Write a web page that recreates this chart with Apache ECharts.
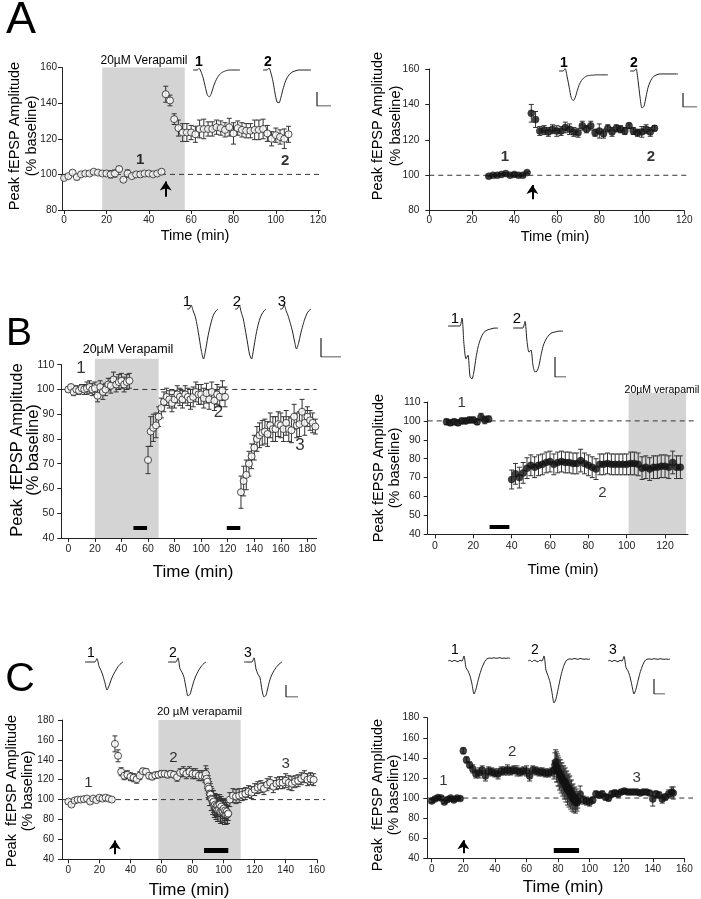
<!DOCTYPE html>
<html><head><meta charset="utf-8">
<script src="https://cdn.jsdelivr.net/npm/echarts@6/dist/echarts.min.js"></script>
<style>html,body{margin:0;padding:0;background:#fff}#c{width:701px;height:899px}</style>
</head><body><div id="c"></div><script>
const FONT = '"Liberation Sans", Arial, Helvetica, sans-serif';

// ---------- DATA: [time (min), mean (% baseline), sem] ----------
const ptsAL = [[0,98,1],[2,99,1],[4,101,1],[6,98.5,1.5],[8,100,1],[10,100.5,1],[12,100.5,1],[14,101.5,1],[16,101,1],[18,100.5,1],[20,100.5,1],[22,100,2],[24,100.5,2],[26,103,1.5],[28,97,1],[30,100.5,2],[32,99,1],[34,100,1],[36,100,1.5],[38,100.5,1],[40,100.5,1],[42,100,1],[44,100.5,1],[46,101.5,1],
[48,145,4.5],[50,141.5,3],[52,131,3],[54,126,4.5],[56,123.5,5],[58,123.5,5],[60,123.5,4],[62,122.5,4.5],[64,125.5,5],[66,125.5,5.5],[68,125.5,4],[70,125.5,4],[72,126.5,4],[74,126,4],[76,125,4],[78,126.5,5],[80,123,6],[82,126,4],[84,125,4],[86,124.5,4],[88,124.5,4],[90,125,5.5],[92,125,5.5],[94,125.5,5.5],[96,123,4.5],[98,120,4],[100,122,4],[102,121,4],[104,120,5.5],[106,122.5,4.5]];
const ptsAR = [[28,99.5,0.5],[30,100,0.5],[32,100,0.5],[34,100.5,0.5],[36,101,0.5],[38,100,0.5],[40,100.5,1],[42,100,0.5],[44,100,0.5],[46,101.5,0.5],
[48,135,5],[50,131.5,4.5],[52,125,2.5],[54,125.5,2.5],[56,124.5,2.5],[58,126,2.5],[60,125,3],[62,125,2.5],[64,127,3],[66,126,3],[68,124.5,2.5],[70,124,2.5],[72,128,2.5],[74,126,2],[76,128,2.5],[78,124,2],[80,125,4],[82,123.5,2.5],[84,126.5,2],[86,124.5,2.5],[88,126.5,2],[90,126,2],[92,125,2],[94,128,1.5],[96,125,2],[98,124,2],[100,124.5,3],[102,126,2.5],[104,124.5,2.5],[106,126.5,1.5]];
const ptsBL = [[0,100,1],[2,101,1],[4,99,1.5],[6,100,1.5],[8,99.5,1.5],[10,100.5,1.5],[12,100,2],[14,100.5,2.5],[16,101,2.5],[18,100,2.5],[20,100.5,2.5],[22,97.5,2.5],[24,101,2.5],[26,99,3],[28,100,2.5],[30,102,2.5],[32,101.5,3],[34,104,3],[36,102,3],[38,103,3],[40,103.5,3],[42,102,3],[44,103,3],[46,103.5,3],
[60,71.5,5.5],[62,83,6],[64,84.5,5.5],[66,85.5,5],[68,89,4],[70,92.5,4],[72,95,4],[74,97,3.5],[76,96,3.5],[78,94.5,3.5],[80,96,3.5],[82,98,3.5],[84,97,3.5],[86,96,3.5],[88,98,3.5],[90,97,3.5],[92,96,4],[94,97,4],[96,99,4],[98,98,4],[100,98,4],[102,96.5,4],[104,98.5,4],[106,96,4],[108,99,4],[110,95.5,4],[112,98,4],[114,97,4],[116,99.5,4],[118,97,4],
[130,58.5,6.5],[132,63,6],[134,65.5,6],[136,70,5],[138,73,5],[140,76.5,5],[142,80,5],[144,81.5,5],[146,82.5,5],[148,83,5],[150,82,5],[152,85.5,5],[154,84,5],[156,84,5],[158,86,5],[160,85.5,5],[162,84,5],[164,86.5,5],[166,84,5],[168,83.5,5],[170,89,5],[172,85.5,5],[174,86,5],[176,91,5],[178,86.5,5],[180,89,4],[182,87.5,4],[184,86.5,4],[186,85,3]];
const ptsBR = [[6,99.5,1.5],[8,99,1.5],[10,99.5,1.5],[12,99,1.5],[14,100,1.5],[16,100,1.5],[18,100.5,1.5],[20,100.5,1.5],[22,99.5,1.5],[24,102,2],[26,100.5,2],[28,101,1.5],
[40,69,5],[42,72,5.5],[44,70,5.5],[46,72.5,5.5],[48,75,5.5],[50,76.5,5.5],[52,75.5,5.5],[54,76.5,5.5],[56,77,5.5],[58,78,5.5],[60,78.5,5.5],[62,77,5.5],[64,78,5.5],[66,78.5,5.5],[68,78,5.5],[70,78,5.5],[72,77.5,5.5],[74,77.5,5.5],[76,79,6],[78,77.5,5.5],[80,76.5,5.5],[82,75.5,5.5],[84,74.5,5.5],[86,77,5.5],[88,77,5.5],[90,77.5,5.5],[92,77,5.5],[94,77,5.5],[96,77,5.5],[98,77,5.5],[100,77,5.5],[102,77.5,6],[104,77.5,6],[106,77,6],[108,75,6],[110,75.5,6],[112,74.5,6],[114,75.5,6],[116,75.5,6],[118,76,6],[120,76,6],[122,75.5,6],[124,78,6],[126,75.5,6],[128,75.5,6]];
const ptsCL = [[0,98,2],[2,95,2],[4,99,1.5],[6,100,1.5],[8,100,1.5],[10,100.5,1.5],[12,101,1.5],[14,98,2],[16,101,1.5],[18,99.5,1.5],[20,102,1.5],[22,101,1.5],[24,102,1.5],[26,101,1.5],[28,100,1.5],
[30,156,8],[32,144,6],[34,128,4],[36,124,4],[38,125,4],[40,123,4],[42,122,4],[44,120.5,4],[46,124,4],[48,128.5,3],[50,128,3],[52,124,3],[54,123,3],[56,124.5,3],[58,125,3],[60,126,3],[62,126,3],[64,125,3],[66,126,3],[68,125,3],[70,122.5,4],[72,127,4],[74,128,5],[76,126,5],[78,128,5],[80,126,5],[82,126,5],[84,124,5],[86,124,5],[88,123,6],
[88.5,126,8],[89,121,10],[89.5,118,9],[90,113,11],[90.5,111,10],[91,106,12],[91.5,105,11],[92,101,12],[92.5,100,11],[93,97,12],[93.5,98,11],[94,94,12],[94.5,95,11],[95,92,12],[95.5,94,11],[96,90,12],[96.5,94,11],[97,90,12],[97.5,95,10],[98,88,12],[98.5,93,10],[99,89,12],[99.5,88,11],[100,91,10],[100.5,86,11],[101,89,10],[101.5,85,10],[102,88,9],[102.5,85,9],[103,86,7],
[104,100,7],[106,104,7],[108,103,7],[110,104,7],[112,105,6],[114,106,6],[116,108,6],[118,107,6],[120,110,6],[122,112,6],[124,113,6],[126,111,6],[128,115,6],[130,117,6],[132,113,6],[134,116,6],[136,117,6],[138,117,6],[140,119,7],[142,117,7],[144,116,7],[146,118,6],[148,119,6],[150,121,6],[152,123,6],[154,120,6],[156,121,6],[158,120,6]];
const ptsCR = [[0,97,1.5],[2,99,1.5],[4,100.5,1.5],[6,100,1.5],[8,96,1.5],[10,98.5,1.5],[12,100,1.5],[14,98,1.5],[16,100,1.5],[18,99.5,1.5],
[20,147,3],[22,138,3],[24,133,3],[26,129,4],[28,124,4],[30,125,5],[32,128,4],[34,122,5],[36,127,4],[38,126,4],[40,125,4],[42,124,5],[44,127,4],[46,127,4],[48,128,5],[50,127,4],[52,128,4],[54,127,5],[56,126,4],[58,127,4],[60,127,5],[62,122,5],[64,128,4],[66,127,4],[68,126,4],[70,126,4],[72,125,4],[74,125,4],[76,126,4],
[77.5,128,9],[78,133,12],[78.5,136,12],[79,131,15],[79.5,130,14],[80,127,15],[80.5,126,14],[81,123,15],[81.5,124,14],[82,120,15],[82.5,121,14],[83,117,15],[83.5,118,14],[84,114,15],[84.5,116,14],[85,111,15],[85.5,113,14],[86,108,15],[86.5,110,14],[87,106,15],[87.5,108,14],[88,103,14],[88.5,105,13],[89,100,13],[89.5,102,12],[90,98,12],[90.5,100,11],[91,96,11],[91.5,99,10],[92,95,8],[92.5,97,7],
[94,104,8],[96,98,4],[98,97,4],[100,96,4],[102,98,3],[104,104,3],[106,103,3],[108,104,3],[110,101,3],[112,100,3],[114,104,3],[116,105,3],[118,104,3],[120,106,2],[122,107,2],[124,106,2],[126,106,2],[128,106,2],[130,106,2],[132,105,2],[134,106,2],[136,106,2],[138,105,2],[140,99,7],[142,104,3],[144,103,3],[146,99,4],[148,101,3],[150,104,4],[152,106,5],[153,105,6]];

// tick labels
const ticksA = [0,20,40,60,80,100,120];
const ticksBL = [0,20,40,60,80,100,120,140,160,180];
const ticksBR = [0,20,40,60,80,100,120];
const ticksC = [0,20,40,60,80,100,120,140,160];

// drug bands [start, end, top]
const bandAL = [18,57,160];
const bandBL = [20,68,112.4];
const bandBR = [101,131,114.9];
const bandCL = [58,111,180];

// numbered time-point labels [time, value, text]
const labelsAL = [[35.9,108,'1'],[104.4,107.5,'2']];
const labelsAR = [[35.6,110.5,'1'],[104.3,110.5,'2']];
const labelsBL = [[9.6,108.5,'1'],[113,90.6,'2'],[174.5,77.6,'3']];
const labelsBR = [[13.9,109.8,'1'],[87.3,61.7,'2']];
const labelsCL = [[12.9,116.4,'1'],[67.6,141.5,'2'],[140,135.5,'3']];
const labelsCR = [[7.4,116.7,'1'],[51,146,'2'],[129.8,120,'3']];

// stimulation arrows [time, tail, head]
const arrowAL = [48,87.5,96];
const arrowAR = [48.5,86.5,94.5];
const arrowCL = [30,45,59];
const arrowCR = [20,45,58];

// black bars [start, end, level]
const barsBL = [[49,59.3,44],[119.3,129.5,44]];
const barsBR = [[28.5,38.8,44]];
const barsCL = [[87.4,103,49]];
const barsCR = [[77.3,93.3,48.3]];

// example fEPSP traces (normalised, 0 = baseline, -1 = peak)
const trAL1 = [0,0,0,0.06,-0.08,-0.3,-0.62,-0.92,-1,-0.86,-0.62,-0.42,-0.27,-0.17,-0.1,-0.06,-0.03,-0.01,0,0,0,0,0,0];
const trAL2 = [0,0,0,0.06,-0.1,-0.35,-0.7,-0.97,-1,-0.82,-0.58,-0.38,-0.24,-0.15,-0.09,-0.05,-0.03,-0.01,0,0,0,0,0,0,0];
const trAR1 = [0,0,0,0.08,-0.2,-0.55,-0.9,-1,-0.88,-0.65,-0.45,-0.32,-0.24,-0.19,-0.16,-0.15,-0.14,-0.14,-0.13,-0.13,-0.13,-0.13,-0.13,-0.13,-0.13];
const trAR2 = [0,0,0,0.06,-0.25,-0.7,-1,-0.95,-0.7,-0.45,-0.3,-0.2,-0.14,-0.11,-0.09,-0.08,-0.08,-0.08,-0.08,-0.08,-0.08,-0.08,-0.08,-0.08,-0.08];
const trBL1 = [0,0,0.08,-0.04,-0.15,-0.35,-0.6,-0.85,-1,-0.82,-0.58,-0.38,-0.22,-0.1,-0.04,0];
const trBL2 = [0,0,0.08,-0.06,-0.2,-0.42,-0.66,-0.9,-1,-0.8,-0.55,-0.35,-0.2,-0.1,-0.04,0];
const trBL3 = [0,0,0.1,-0.05,-0.18,-0.36,-0.55,-0.8,-1,-0.85,-0.62,-0.42,-0.25,-0.12,-0.04,0];
const trBR1 = [0,0,0,0,0,0,0,0.15,-0.35,-0.62,-0.55,-0.95,-1,-0.85,-0.6,-0.4,-0.27,-0.18,-0.12,-0.09,-0.07,-0.06,-0.05,-0.04,-0.04,-0.04];
const trBR2 = [0,0,0,0,0,0,0.15,-0.3,-0.55,-0.5,-0.85,-1,-0.98,-0.85,-0.62,-0.42,-0.3,-0.22,-0.16,-0.12,-0.1,-0.09,-0.08,-0.07,-0.07,-0.07];
const trCL1 = [0,0,0,0,0,0,0.12,-0.15,-0.3,-0.5,-0.75,-1,-0.85,-0.65,-0.48,-0.35,-0.22,-0.12,-0.05,0];
const trCL2 = [0,0,0,0,0,0.12,-0.2,-0.3,-0.45,-0.75,-1,-0.95,-0.75,-0.55,-0.4,-0.28,-0.18,-0.1,-0.04,0];
const trCL3 = [0,0,0,0,0,0.12,-0.2,-0.35,-0.45,-0.8,-1,-0.95,-0.72,-0.5,-0.35,-0.25,-0.16,-0.09,-0.04,0];
const trCR1 = [0,0.02,-0.02,0.02,0,-0.02,0.02,0,0.15,-0.2,-0.3,-0.45,-0.7,-1,-0.85,-0.6,-0.38,-0.2,-0.06,0.04,0.08,0.09,0.08,0.1,0.08,0.09,0.1,0.08,0.09,0.08,0.09,0.08];
const trCR2 = [0,0.02,-0.02,0.02,0,-0.02,0.02,0,0.12,-0.22,-0.35,-0.5,-0.75,-1,-0.9,-0.68,-0.45,-0.25,-0.1,0,0.04,0.05,0.04,0.06,0.05,0.04,0.06,0.05,0.04,0.05,0.04,0.05];
const trCR3 = [0,0.02,-0.02,0.02,0,-0.02,0.02,0,0.14,-0.2,-0.3,-0.48,-0.75,-1,-0.85,-0.6,-0.36,-0.18,-0.04,0.04,0.06,0.06,0.05,0.07,0.06,0.05,0.07,0.06,0.05,0.06,0.05,0.06];
const scaleBarShape = [[0,1],[0,0],[1,0]];

// ---------- BUILD ----------
const grids=[], xAxes=[], yAxes=[], series=[], graphics=[];
function addGrid(l,t,w,h,xr,yr){
  const i=grids.length;
  grids.push({left:l,top:t,width:w,height:h,outerBoundsMode:'none',containLabel:false});
  xAxes.push({gridIndex:i,type:'value',min:xr[0],max:xr[1],show:false});
  yAxes.push({gridIndex:i,type:'value',min:yr[0],max:yr[1],show:false});
  return i;
}
function text(t,x,y,size,opt){
  opt=opt||{};
  graphics.push({type:'text',x:x,y:y,rotation:opt.rot||0,z:100,silent:true,
    style:{text:t,fill:'#000',fontSize:size,fontFamily:FONT,fontWeight:opt.bold?'bold':'normal',align:opt.align||'center',verticalAlign:'middle'}});
}
function panel(p){
  const w=(p.x[1]-p.x[0])*p.px;
  const pxY=p.h/(p.y[1]-p.y[0]);
  const bandTop=p.band?p.band[2]:p.y[1];
  const eT=Math.max(0,(bandTop-p.y[1])*pxY);
  const eR=Math.max(0,(p.dashEnd-p.x[1])*p.px);
  const o=addGrid(p.l,p.t-eT,w+eR,p.h+eT,[p.x[0],p.x[1]+eR/p.px],[p.y[0],p.y[1]+eT/pxY]);
  if(p.band){
    series.push({type:'custom',xAxisIndex:o,yAxisIndex:o,z:-1,silent:true,
      data:[[p.band[0],p.band[1],p.y[0],p.band[2]]],encode:{x:[0,1],y:[2,3]},
      renderItem:(params,api)=>{const a=api.coord([api.value(0),api.value(3)]);const b=api.coord([api.value(1),api.value(2)]);
        return {type:'rect',shape:{x:a[0],y:a[1],width:b[0]-a[0],height:b[1]-a[1]},style:{fill:'#d4d4d4'}};}});
  }
  series.push({type:'line',xAxisIndex:o,yAxisIndex:o,z:1,silent:true,symbol:'none',
    data:[[p.x[0],100],[p.dashEnd,100]],lineStyle:{color:'#333',width:1,type:[5,4]}});
  const m=addGrid(p.l,p.t,w,p.h,p.x,p.y);
  const axc='#222';
  xAxes[m]={gridIndex:m,type:'value',min:p.x[0],max:p.x[1],
    axisLine:{show:true,onZero:false,lineStyle:{color:axc,width:1}},
    axisTick:{show:true,length:4,customValues:p.xt,lineStyle:{color:axc}},
    axisLabel:{show:true,customValues:p.xt,fontSize:p.fs,color:axc,margin:p.xm,fontFamily:FONT},
    splitLine:{show:false}};
  yAxes[m]={gridIndex:m,type:'value',min:p.y[0],max:p.y[1],interval:p.yi,
    axisLine:{show:true,onZero:false,lineStyle:{color:axc,width:1}},
    axisTick:{show:true,length:4,lineStyle:{color:axc}},
    axisLabel:{show:true,fontSize:p.fs,color:axc,margin:p.ym,fontFamily:FONT,showMinLabel:true,showMaxLabel:true},
    splitLine:{show:false}};
  series.push({type:'custom',xAxisIndex:m,yAxisIndex:m,z:3,silent:true,data:p.pts,encode:{x:0,y:1},
    renderItem:(params,api)=>{
      const x=api.value(0),v=api.value(1),e=api.value(2);
      const t=api.coord([x,v+e]),b=api.coord([x,v-e]);const cw=2.5;
      const st={stroke:'#333',lineWidth:1};
      return {type:'group',children:[
        {type:'line',shape:{x1:t[0],y1:t[1],x2:b[0],y2:b[1]},style:st},
        {type:'line',shape:{x1:t[0]-cw,y1:t[1],x2:t[0]+cw,y2:t[1]},style:st},
        {type:'line',shape:{x1:b[0]-cw,y1:b[1],x2:b[0]+cw,y2:b[1]},style:st}]};
    }});
  series.push({type:'scatter',xAxisIndex:m,yAxisIndex:m,z:4,silent:true,symbol:'circle',symbolSize:p.ms,
    data:p.pts.map(d=>[d[0],d[1]]),
    itemStyle:p.open?{color:'#fff',borderColor:'#222',borderWidth:1}:{color:'#111',borderColor:'#111',borderWidth:0.5}});
  series.push({type:'scatter',xAxisIndex:m,yAxisIndex:m,z:5,silent:true,clip:false,symbolSize:1,
    itemStyle:{color:'rgba(0,0,0,0)'},
    data:p.labels.map(d=>({value:[d[0],d[1]],name:d[2]})),
    label:{show:true,position:'inside',formatter:'{b}',color:'#000',fontSize:p.lfs,fontWeight:p.lbold?'bold':'normal',fontFamily:FONT}});
  if(p.arrow){
    series.push({type:'lines',coordinateSystem:'cartesian2d',xAxisIndex:m,yAxisIndex:m,z:5,silent:true,
      symbol:['none','arrow'],symbolSize:[0,9],
      data:[{coords:[[p.arrow[0],p.arrow[1]],[p.arrow[0],p.arrow[2]]]}],lineStyle:{color:'#000',width:2,opacity:1}});
  }
  if(p.bars){
    series.push({type:'lines',coordinateSystem:'cartesian2d',xAxisIndex:m,yAxisIndex:m,z:5,silent:true,symbol:'none',
      data:p.bars.map(b=>({coords:[[b[0],b[2]],[b[1],b[2]]]})),lineStyle:{color:'#000',width:p.barW,opacity:1}});
  }
}
function trace(arr,x0,x1,baseY,minY){
  const d=minY-baseY;
  const g=addGrid(x0,baseY-0.2*d,x1-x0,1.2*d,[0,arr.length-1],[-1,0.2]);
  series.push({type:'line',xAxisIndex:g,yAxisIndex:g,silent:true,symbol:'none',smooth:0.25,
    data:arr.map((v,i)=>[i,v]),lineStyle:{color:'#222',width:1}});
}
function scaleBar(x0,x1,y0,y1){
  const g=addGrid(x0,y0,x1-x0,y1-y0,[0,1],[0,1]);
  series.push({type:'line',xAxisIndex:g,yAxisIndex:g,silent:true,symbol:'none',
    data:scaleBarShape,lineStyle:{color:'#222',width:1.2}});
}

// ---- panels ----
panel({l:62,t:67.5,h:142.5,x:[-1,121],px:2.117,y:[80,160],yi:20,xt:ticksA,pts:ptsAL,open:true,band:bandAL,dashEnd:121,
  labels:labelsAL,lfs:15,lbold:true,arrow:arrowAL,fs:10,xm:5,ym:5,ms:7});
panel({l:429.3,t:69,h:141.7,x:[0,120],px:2.125,y:[80,160],yi:20,xt:ticksA,pts:ptsAR,open:false,dashEnd:121,
  labels:labelsAR,lfs:15,lbold:true,arrow:arrowAR,fs:10,xm:5,ym:10,ms:7});
panel({l:61.3,t:364.7,h:173.3,x:[-5.3,187],px:1.328,y:[40,110],yi:10,xt:ticksBL,pts:ptsBL,open:true,band:bandBL,dashEnd:187,
  labels:labelsBL,lfs:17,lbold:false,bars:barsBL,barW:4,fs:10.5,xm:6,ym:7,ms:7});
panel({l:427.7,t:402,h:132.3,x:[-3.8,132],px:1.917,y:[40,110],yi:10,xt:ticksBR,pts:ptsBR,open:false,band:bandBR,dashEnd:137,
  labels:labelsBR,lfs:15,lbold:false,bars:barsBR,barW:4,fs:10.5,xm:6,ym:7,ms:7});
panel({l:62,t:720,h:139.3,x:[-4.1,160],px:1.5525,y:[40,180],yi:20,xt:ticksC,pts:ptsCL,open:true,band:bandCL,dashEnd:165.5,
  labels:labelsCL,lfs:15,lbold:false,arrow:arrowCL,bars:barsCL,barW:5,fs:10,xm:6,ym:8,ms:7});
panel({l:427.3,t:717.7,h:140.6,x:[-2.8,160],px:1.579,y:[40,180],yi:20,xt:ticksC,pts:ptsCR,open:false,dashEnd:165.5,
  labels:labelsCR,lfs:15,lbold:false,arrow:arrowCR,bars:barsCR,barW:5,fs:10,xm:6,ym:8,ms:7});

// ---- traces ----
trace(trAL1,193,240,70,97); trace(trAL2,263,311,70,103);
trace(trAR1,559,608,71,100.7); trace(trAR2,630,678,71,108);
trace(trBL1,187,218,309,359); trace(trBL2,235,266,309,359); trace(trBL3,280,311,309,349);
trace(trBR1,448,498,326,379); trace(trBR2,513,563,328,372);
trace(trCL1,85,123,662,690); trace(trCL2,168,206,662,696); trace(trCL3,244,282,662,697);
trace(trCR1,448,510,661,694); trace(trCR2,528,590,661,703); trace(trCR3,608,670,661,694);
scaleBar(317,331,92,106); scaleBar(683,697,93,107); scaleBar(321,341,338,357);
scaleBar(555,566,357,377); scaleBar(286,298,685,697); scaleBar(654,665,679,694);

// ---- texts ----
text('A',21,21,45); text('B',19,334,39); text('C',20,680,41);
const YT1='Peak fEPSP Amplitude', YT2='(% baseline)', YT1b='Peak  fEPSP Amplitude';
const R=Math.PI/2;
text(YT1,15,136,14.5,{rot:R}); text(YT2,32,136,14.5,{rot:R});
text(YT1,378,126,14.5,{rot:R}); text(YT2,396,126,14.5,{rot:R});
text(YT1b,17,450,16.5,{rot:R}); text(YT2,33,450,16.5,{rot:R});
text(YT1,379,468,14.5,{rot:R}); text(YT2,395,468,14.5,{rot:R});
text(YT1b,12,791,14.5,{rot:R}); text(YT2,28,791,14.5,{rot:R});
text(YT1b,378,795,14.5,{rot:R}); text(YT2,394,795,14.5,{rot:R});
text('Time (min)',195,236,14.5); text('Time (min)',555,237,14.5);
text('Time (min)',193,572,17); text('Time (min)',563,570,15);
text('Time (min)',189,890,17); text('Time (min)',563,887,17);
text('20µM Verapamil',144,61,12); text('20µM Verapamil',128,350,12.5);
text('20µM verapamil',662,390,10.5); text('20 µM verapamil',199.5,712,11.5);
// trace numbers
text('1',199,62,14,{bold:true}); text('2',268,62,14,{bold:true});
text('1',564,63,14,{bold:true}); text('2',634,63,14,{bold:true});
text('1',187,302,15); text('2',237,302,15); text('3',282,302,15);
text('1',455,319,15); text('2',517,319,15);
text('1',91,653,14); text('2',173,653,14); text('3',248,653,14);
text('1',455,650,14); text('2',535,650,14); text('3',613,650,14);

const chart=echarts.init(document.getElementById('c'),null,{renderer:'canvas'});
chart.setOption({backgroundColor:'#fff',animation:false,grid:grids,xAxis:xAxes,yAxis:yAxes,series:series,graphic:graphics});
</script></body></html>
